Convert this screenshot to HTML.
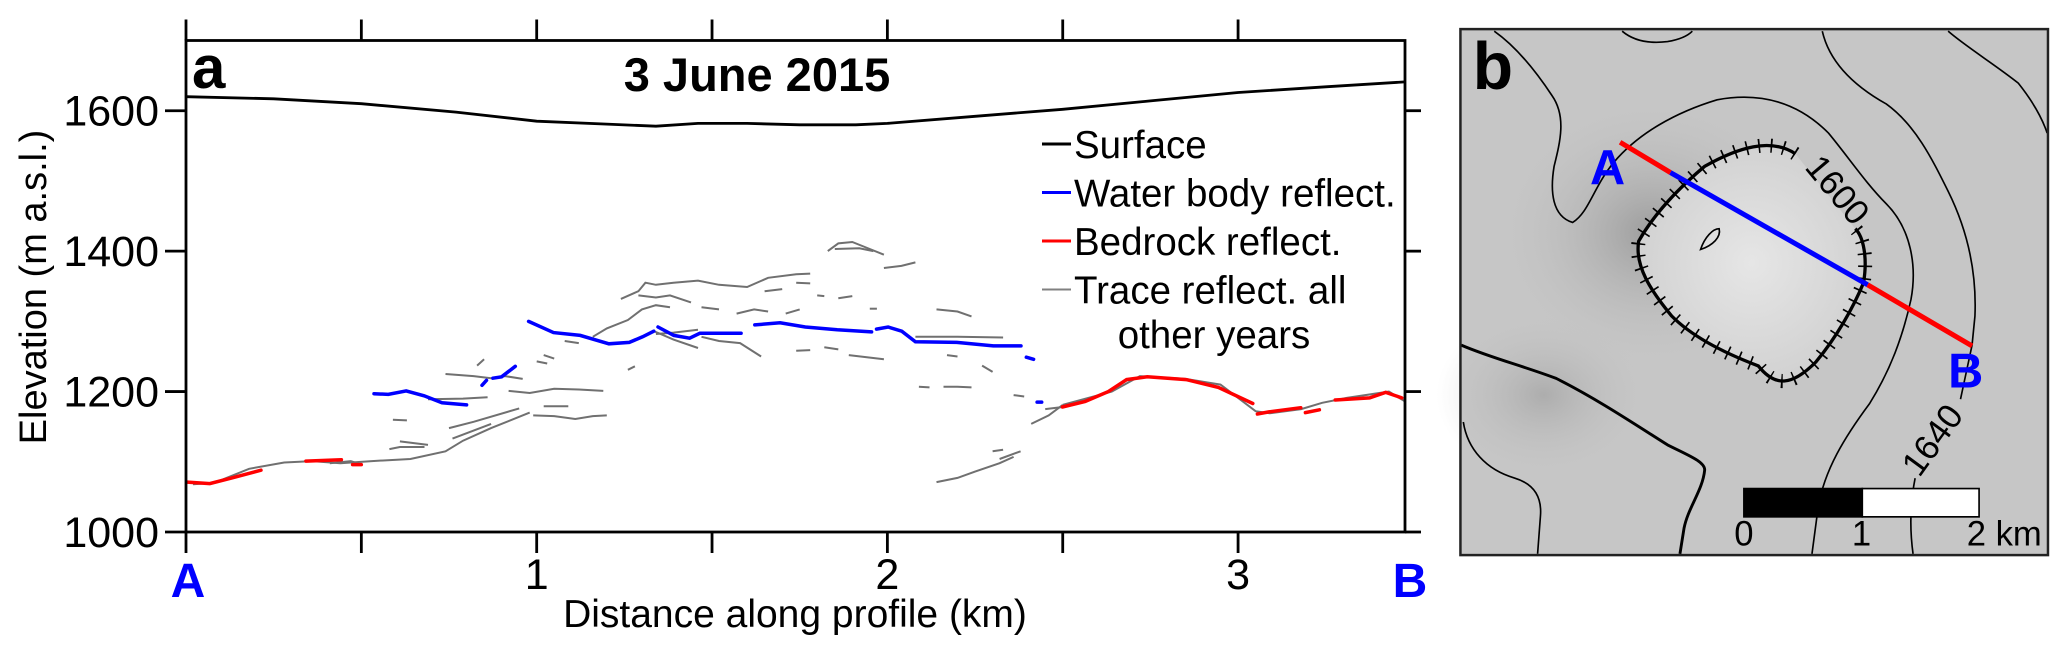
<!DOCTYPE html>
<html><head><meta charset="utf-8"><style>
html,body{margin:0;padding:0;background:#fff;}
svg{display:block;font-family:"Liberation Sans",Arial,sans-serif;}
</style></head><body>
<svg id="fig" width="2067" height="652" viewBox="0 0 2067 652" xmlns="http://www.w3.org/2000/svg">
<defs>
<radialGradient id="crater" cx="0.5" cy="0.5" r="0.5"><stop offset="0" stop-color="#e6e6e6"/><stop offset="1" stop-color="#d2d2d2"/></radialGradient>
<radialGradient id="dark" cx="0.5" cy="0.5" r="0.5"><stop offset="0" stop-color="#9c9c9c"/><stop offset="1" stop-color="#c6c6c6" stop-opacity="0"/></radialGradient>
</defs>
<g id="panelA"></g>
<g id="panelB" transform="translate(1420,0) scale(0.4126,0.4158)">
  <rect x="98" y="70" width="1424" height="1265" fill="#c6c6c6"/>
  <ellipse cx="560" cy="560" rx="380" ry="330" fill="url(#dark)"/>
  <ellipse cx="300" cy="950" rx="260" ry="200" fill="url(#dark)" opacity="0.6"/>
  <path d="M910,370 C850,330 770,355 690,400 C630,450 570,510 530,580 C520,640 560,700 610,760 C660,810 740,850 820,880 C860,930 900,930 960,870 C1010,810 1050,740 1075,680 C1085,620 1075,570 1055,550 Z" fill="url(#crater)"/>
  <g fill="none" stroke="#000" stroke-width="4">
    <path d="M180,75 C230,110 280,170 320,230 C355,280 340,340 325,400 C315,460 320,520 370,535 C410,510 420,450 470,390 C530,320 620,270 720,240 C830,220 920,250 990,320 C1040,380 1080,440 1130,490 C1190,550 1205,640 1190,720 C1170,810 1140,890 1090,970 C1030,1050 980,1130 965,1220 L950,1332"/>
    <path d="M490,75 C520,100 560,105 600,100 C630,95 650,85 660,75"/>
    <path d="M975,75 C990,140 1040,200 1130,250 C1200,300 1240,380 1280,460 C1320,540 1350,640 1345,760 L1338,830 L1310,960 M1200,1150 C1190,1200 1185,1260 1195,1332"/>
    <path d="M1280,75 C1320,110 1400,160 1450,200 C1490,250 1510,290 1520,320"/>
    <path stroke-width="7" d="M100,830 C170,860 250,880 330,910 C430,960 520,1020 600,1070 C650,1095 690,1110 690,1130 C685,1180 650,1220 640,1270 L630,1332"/>
    <path d="M105,1015 C115,1080 160,1130 230,1150 C280,1165 295,1200 292,1240 L285,1332"/>
  </g>
  <path fill="none" stroke="#000" stroke-width="8" d="M910,370 C850,330 770,355 690,400 C630,450 570,510 530,580 C520,640 560,700 610,760 C660,810 740,850 820,880 C860,930 900,930 960,870 C1010,810 1050,740 1075,680 C1085,620 1075,570 1055,550"/>
  <path fill="none" stroke="#000" stroke-width="34" stroke-dasharray="4 26" d="M910,370 C850,330 770,355 690,400 C630,450 570,510 530,580 C520,640 560,700 610,760 C660,810 740,850 820,880 C860,930 900,930 960,870 C1010,810 1050,740 1075,680 C1085,620 1075,570 1055,550"/>
  <path fill="none" stroke="#000" stroke-width="4" d="M680,600 C690,570 710,550 725,550 C730,570 710,590 680,600 Z"/>
  <line x1="485" y1="342" x2="607" y2="415" stroke="#ff0000" stroke-width="12"/>
  <line x1="607" y1="415" x2="1085" y2="685" stroke="#0000ff" stroke-width="12"/>
  <line x1="1085" y1="685" x2="1338" y2="832" stroke="#ff0000" stroke-width="12"/>
  <text x="412" y="442" font-size="118" font-weight="bold" fill="#0000ff">A</text>
  <text x="1280" y="932" font-size="118" font-weight="bold" fill="#0000ff">B</text>
  <text x="128" y="214" font-size="160" font-weight="bold" fill="#000">b</text>
  <text transform="translate(990,475) rotate(50)" text-anchor="middle" font-size="84" fill="#000">1600</text>
  <text transform="translate(1265,1075) rotate(-54)" text-anchor="middle" font-size="84" fill="#000">1640</text>
  <rect x="785" y="1175" width="287" height="68" fill="#000" stroke="#000" stroke-width="4"/>
  <rect x="1072" y="1175" width="283" height="68" fill="#fff" stroke="#000" stroke-width="4"/>
  <text x="785" y="1312" text-anchor="middle" font-size="84">0</text>
  <text x="1070" y="1312" text-anchor="middle" font-size="84">1</text>
  <text x="1325" y="1312" font-size="84">2 km</text>
  <rect x="98" y="70" width="1424" height="1265" fill="none" stroke="#222" stroke-width="6"/>
</g>
<script>
const xTicksMajor = [0, 1, 2, 3];
const xTicksMinor = [0.5, 1.5, 2.5];
const xTickLabels = ["", "1", "2", "3"];
const yTicks = [1000, 1200, 1400, 1600];
const yTickLabels = ["1000", "1200", "1400", "1600"];
const surfaceKm = [0, 0.25, 0.5, 0.77, 1.0, 1.2, 1.34, 1.46, 1.6, 1.75, 1.91, 2.0, 2.25, 2.5, 2.75, 3.0, 3.25, 3.476];
const surfaceElev = [1620, 1617, 1610, 1598, 1585, 1581, 1578, 1582, 1582, 1580, 1580, 1582, 1592, 1602, 1614, 1626, 1634, 1641];
const waterSegments = [
 [[0.536,1197],[0.577,1196],[0.628,1201],[0.679,1194],[0.73,1184],[0.8,1181]],
 [[0.844,1209],[0.857,1216]],
 [[0.875,1219],[0.9,1221],[0.939,1236]],
 [[0.977,1300],[1.048,1284],[1.124,1280],[1.206,1268],[1.264,1270],[1.302,1278],[1.334,1286]],
 [[1.346,1292],[1.391,1280],[1.436,1276],[1.465,1283],[1.583,1283]],
 [[1.622,1295],[1.694,1298],[1.766,1292],[1.857,1288],[1.955,1285]],
 [[1.969,1289],[2.002,1292],[2.041,1286],[2.08,1271],[2.198,1270],[2.302,1265],[2.381,1265]],
 [[2.396,1249],[2.417,1246]],
 [[2.427,1185],[2.44,1185]]
];
const bedrockSegments = [
 [[0.004,1071],[0.068,1069],[0.131,1077],[0.214,1088]],
 [[0.342,1101],[0.443,1103]],
 [[0.475,1096],[0.5,1096]],
 [[2.499,1178],[2.564,1186],[2.63,1200],[2.682,1217],[2.741,1221],[2.852,1217],[2.944,1206],[3.042,1183]],
 [[3.055,1168],[3.088,1171],[3.179,1177]],
 [[3.192,1170],[3.232,1174]],
 [[3.277,1188],[3.375,1191],[3.421,1199],[3.467,1191]]
];
const traceSegments = [
 [[0.02,1068],[0.08,1070],[0.18,1090],[0.28,1099],[0.36,1101],[0.44,1098],[0.53,1101],[0.64,1104],[0.74,1115],[0.79,1130],[0.87,1148],[0.98,1170]],
 [[0.75,1148],[0.82,1157],[0.95,1176]],
 [[0.76,1133],[0.87,1154]],
 [[0.99,1166],[1.05,1165],[1.11,1161],[1.16,1165],[1.2,1166]],
 [[1.02,1179],[1.09,1179]],
 [[0.92,1201],[0.98,1198],[1.05,1204],[1.12,1203],[1.19,1201]],
 [[0.69,1189],[0.79,1190],[0.86,1192]],
 [[0.74,1225],[0.82,1222],[0.87,1219],[0.91,1222],[0.96,1218]],
 [[0.83,1237],[0.85,1246]],
 [[0.61,1129],[0.69,1124]],
 [[0.58,1118],[0.61,1121],[0.68,1121]],
 [[0.59,1160],[0.63,1159]],
 [[1.0,1243],[1.03,1240]],
 [[1.02,1252],[1.05,1247]],
 [[1.08,1272],[1.12,1269]],
 [[1.16,1278],[1.2,1290],[1.26,1302],[1.3,1317],[1.34,1323],[1.38,1320]],
 [[1.24,1332],[1.29,1343],[1.31,1355],[1.34,1352],[1.39,1355],[1.46,1358],[1.52,1352],[1.6,1349],[1.66,1362],[1.74,1367],[1.78,1368]],
 [[1.29,1337],[1.34,1334],[1.38,1337],[1.44,1327]],
 [[1.26,1231],[1.28,1236]],
 [[1.33,1287],[1.39,1274],[1.46,1262]],
 [[1.34,1282],[1.39,1284],[1.46,1288]],
 [[1.65,1343],[1.7,1346]],
 [[1.47,1320],[1.52,1317]],
 [[1.57,1311],[1.62,1317],[1.66,1314]],
 [[1.71,1311],[1.75,1317]],
 [[1.74,1355],[1.78,1354]],
 [[1.8,1337],[1.82,1336]],
 [[1.86,1333],[1.9,1336]],
 [[1.83,1400],[1.86,1411],[1.9,1413],[1.95,1403],[1.99,1395]],
 [[1.85,1403],[1.92,1404],[1.96,1400]],
 [[1.99,1376],[2.04,1379],[2.08,1384]],
 [[1.95,1318],[1.97,1318]],
 [[2.14,1317],[2.2,1314],[2.24,1307]],
 [[1.74,1258],[1.78,1259]],
 [[1.82,1263],[1.86,1260]],
 [[1.89,1252],[1.99,1246]],
 [[1.47,1278],[1.52,1272],[1.58,1269],[1.64,1250]],
 [[2.17,1252],[2.2,1250]],
 [[2.08,1278],[2.2,1278],[2.33,1277]],
 [[2.27,1237],[2.3,1228]],
 [[2.09,1207],[2.12,1206]],
 [[2.16,1207],[2.2,1207],[2.24,1206]],
 [[2.36,1195],[2.39,1193]],
 [[2.41,1154],[2.46,1166],[2.5,1181]],
 [[2.45,1175],[2.5,1178]],
 [[2.3,1115],[2.33,1117]],
 [[2.32,1104],[2.38,1115]],
 [[2.14,1071],[2.2,1077],[2.25,1086],[2.32,1098],[2.36,1107]],
 [[2.5,1181],[2.64,1200],[2.72,1222],[2.85,1218],[2.95,1210],[3.05,1172],[3.09,1169],[3.18,1175],[3.24,1184],[3.31,1191],[3.43,1200],[3.476,1186]],
 [[0.41,1098],[0.47,1101],[0.5,1096]]
];
const legendLabels = ["Surface", "Water body reflect.", "Bedrock reflect.", "Trace reflect. all"];
const legendColors = ["#000000", "#0000ff", "#ff0000", "#808080"];

const NS = "http://www.w3.org/2000/svg";
const L = 186, R = 1405, T = 40.5, B = 532;
const xMax = 3.476, yMin = 1000, yMax = 1700;
function sx(k){ return L + k / xMax * (R - L); }
function sy(e){ return B - (e - yMin) / (yMax - yMin) * (B - T); }
const g = document.getElementById('panelA');
function mk(tag, attrs, parent){
  const el = document.createElementNS(NS, tag);
  for (const k in attrs) el.setAttribute(k, attrs[k]);
  (parent || g).appendChild(el);
  return el;
}
function pathFrom(pts){ return pts.map((p,i)=>(i?'L':'M')+sx(p[0]).toFixed(1)+','+sy(p[1]).toFixed(1)).join(' '); }

const tg = mk('g', {fill:'none', stroke:'#707070', 'stroke-width':'2'});


traceSegments.forEach(s=>{
  const p = mk('path', {d: pathFrom(s)}, tg);
  
  
});
const wg = mk('g', {fill:'none', stroke:'#0000ff', 'stroke-width':'3.5', 'stroke-linecap':'round'});


waterSegments.forEach(s=>{
  const p = mk('path', {d: pathFrom(s)}, wg);
  
  
});
const bg = mk('g', {fill:'none', stroke:'#ff0000', 'stroke-width':'3.5', 'stroke-linecap':'round'});


bedrockSegments.forEach(s=>{
  const p = mk('path', {d: pathFrom(s)}, bg);
  
  
});
const surf = mk('path', {d: pathFrom(surfaceKm.map((k,i)=>[k, surfaceElev[i]])), fill:'none', stroke:'#000', 'stroke-width':'2.8', 'stroke-linejoin':'round'});



const frame = mk('rect', {x:L, y:T, width:R-L, height:B-T, fill:'none', stroke:'#000', 'stroke-width':'2.8'});



xTicksMajor.concat(xTicksMinor).forEach(k=>{
  const x = sx(k);
  const t1 = mk('line', {x1:x, x2:x, y1:B, y2:B+21, stroke:'#000', 'stroke-width':'2.8'});
  
  
  const t2 = mk('line', {x1:x, x2:x, y1:T, y2:T-21, stroke:'#000', 'stroke-width':'2.8'});
  
  
});
xTicksMajor.forEach((k,i)=>{
  if (!xTickLabels[i]) return;
  const t = mk('text', {x:sx(k), y:589, 'text-anchor':'middle', 'font-size':'43'});
  t.textContent = xTickLabels[i];
  
  
});
yTicks.forEach((e,i)=>{
  const y = sy(e);
  const t1 = mk('line', {x1:L-21, x2:L, y1:y, y2:y, stroke:'#000', 'stroke-width':'2.8'});
  
  
  const t2 = mk('line', {x1:R, x2:R+16, y1:y, y2:y, stroke:'#000', 'stroke-width':'2.8'});
  
  
  const lb = mk('text', {x:159, y:y+15, 'text-anchor':'end', 'font-size':'43'});
  lb.textContent = yTickLabels[i];
  
  
});
function txt(s, attrs, name){
  const t = mk('text', attrs);
  t.textContent = s;
  
  
  return t;
}
txt('A', {x:188, y:597, 'text-anchor':'middle', 'font-size':'48', 'font-weight':'bold', fill:'#0000ff'}, 'profile-start-label');
txt('B', {x:1410, y:597, 'text-anchor':'middle', 'font-size':'48', 'font-weight':'bold', fill:'#0000ff'}, 'profile-end-label');
txt('Distance along profile (km)', {x:795, y:627, 'text-anchor':'middle', 'font-size':'39'}, 'x-axis-title');
txt('Elevation (m a.s.l.)', {transform:'translate(46,287) rotate(-90)', 'text-anchor':'middle', 'font-size':'38'}, 'y-axis-title');
txt('a', {x:192, y:88, 'font-size':'60', 'font-weight':'bold'}, 'panel-label-a');
txt('3 June 2015', {x:757, y:91, 'text-anchor':'middle', 'font-size':'47', 'font-weight':'bold'}, 'chart-title');
const lg = mk('g', {});


legendLabels.forEach((s,i)=>{
  const y = 143 + i*48.5;
  const ln = mk('line', {x1:1042, x2:1071, y1:y+1, y2:y+1, stroke:legendColors[i], 'stroke-width': i==3?'2':'3'}, lg);
  
  
  const t = mk('text', {x:1074, y:y+15, 'font-size':'38.5'}, lg);
  t.textContent = s;
  
  
});
const t5 = mk('text', {x:1214, y:348, 'text-anchor':'middle', 'font-size':'38.5'}, lg);
t5.textContent = 'other years';


</script>
</svg>
</body></html>
